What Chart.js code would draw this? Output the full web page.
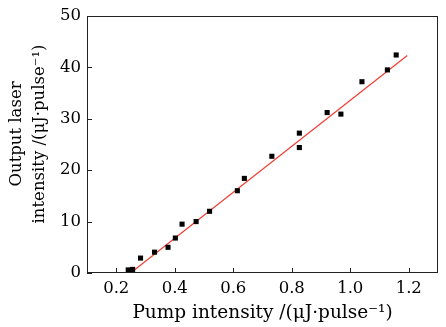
<!DOCTYPE html>
<html>
<head>
<meta charset="utf-8">
<script src="https://cdn.jsdelivr.net/npm/chart.js@4/dist/chart.umd.min.js"></script>
<style>
  html, body { margin: 0; padding: 0; background: #fff; }
  #wrap { width: 446px; height: 327px; }
</style>
</head>
<body>
<div id="wrap"><canvas id="chart"></canvas></div>
<script>
// measured points
const pumpX = [0.241, 0.256, 0.283, 0.331, 0.377, 0.402, 0.425, 0.473, 0.519, 0.614,
               0.638, 0.732, 0.826, 0.826, 0.921, 0.968, 1.040, 1.127, 1.157];
const outputY = [0.6, 0.7, 2.9, 4.05, 5.0, 6.8, 9.5, 10.0, 12.0, 16.0,
                 18.4, 22.7, 24.4, 27.2, 31.2, 30.9, 37.2, 39.5, 42.4];

// linear fit end points
const fitX = [0.249, 1.195];
const fitY = [0, 42.3];

const xTicks = [0.2, 0.4, 0.6, 0.8, 1.0, 1.2];
const yTicks = [0, 10, 20, 30, 40, 50];

const xTitle = "Pump intensity /(\u03bcJ\u00b7pulse\u207b\u00b9)";
// leading spaces nudge the rotated title up a little, like the original
const yTitle = ["    Output laser", "    intensity /(\u03bcJ\u00b7pulse\u207b\u00b9)"];

const FONT = "'DejaVu Serif', serif";

// box around plot + inward ticks
const frame = {
  id: "frame",
  afterDraw(chart) {
    const ctx = chart.ctx;
    const a = chart.chartArea;
    ctx.save();
    ctx.strokeStyle = "#222";
    ctx.lineWidth = 1;
    ctx.strokeRect(Math.round(a.left) + 0.5, Math.round(a.top) + 0.5,
      Math.round(a.right - a.left) - 1, Math.round(a.bottom - a.top) - 1);
    ctx.beginPath();
    chart.scales.x.ticks.forEach(t => {
      const px = Math.round(chart.scales.x.getPixelForValue(t.value)) + 0.5;
      ctx.moveTo(px, a.bottom);
      ctx.lineTo(px, a.bottom - 5);
    });
    chart.scales.y.ticks.forEach(t => {
      const py = Math.round(chart.scales.y.getPixelForValue(t.value)) + 0.5;
      ctx.moveTo(a.left, py);
      ctx.lineTo(a.left + 5, py);
    });
    ctx.stroke();
    ctx.restore();
  }
};

new Chart(document.getElementById("chart"), {
  type: "scatter",
  data: {
    datasets: [
      {
        label: "data",
        data: pumpX.map((x, i) => ({ x: x, y: outputY[i] })),
        pointStyle: "rect",
        pointRadius: 3.6,
        backgroundColor: "#000",
        borderColor: "#000",
        borderWidth: 0
      },
      {
        label: "fit",
        data: fitX.map((x, i) => ({ x: x, y: fitY[i] })),
        showLine: true,
        pointRadius: 0,
        borderColor: "#f03c32",
        borderWidth: 1.2
      }
    ]
  },
  options: {
    responsive: true,
    maintainAspectRatio: false,
    animation: false,
    layout: { padding: { top: 14, right: 8, left: 0, bottom: 0 } },
    plugins: { legend: { display: false }, tooltip: { enabled: false } },
    scales: {
      x: {
        type: "linear",
        min: 0.1,
        max: 1.3,
        afterBuildTicks: s => { s.ticks = xTicks.map(v => ({ value: v })); },
        afterFit: s => { s.height = 54; },
        grid: { display: false, drawTicks: false },
        border: { display: false },
        ticks: {
          color: "#000",
          padding: 6,
          font: { family: FONT, size: 16.5 },
          callback: v => v.toFixed(1)
        },
        title: {
          display: true,
          text: xTitle,
          color: "#000",
          padding: { top: 0, bottom: 4 },
          font: { family: FONT, size: 18.5, lineHeight: 1.1 }
        }
      },
      y: {
        type: "linear",
        min: 0,
        max: 50,
        afterBuildTicks: s => { s.ticks = yTicks.map(v => ({ value: v })); },
        afterFit: s => { s.width = 87; },
        grid: { display: false, drawTicks: false },
        border: { display: false },
        ticks: {
          color: "#000",
          padding: 6,
          font: { family: FONT, size: 16.5 }
        },
        title: {
          display: true,
          text: yTitle,
          color: "#000",
          padding: { top: 5, bottom: 0 },
          font: { family: FONT, size: 16.5, lineHeight: 1.4 }
        }
      }
    }
  },
  plugins: [frame]
});
</script>
</body>
</html>
